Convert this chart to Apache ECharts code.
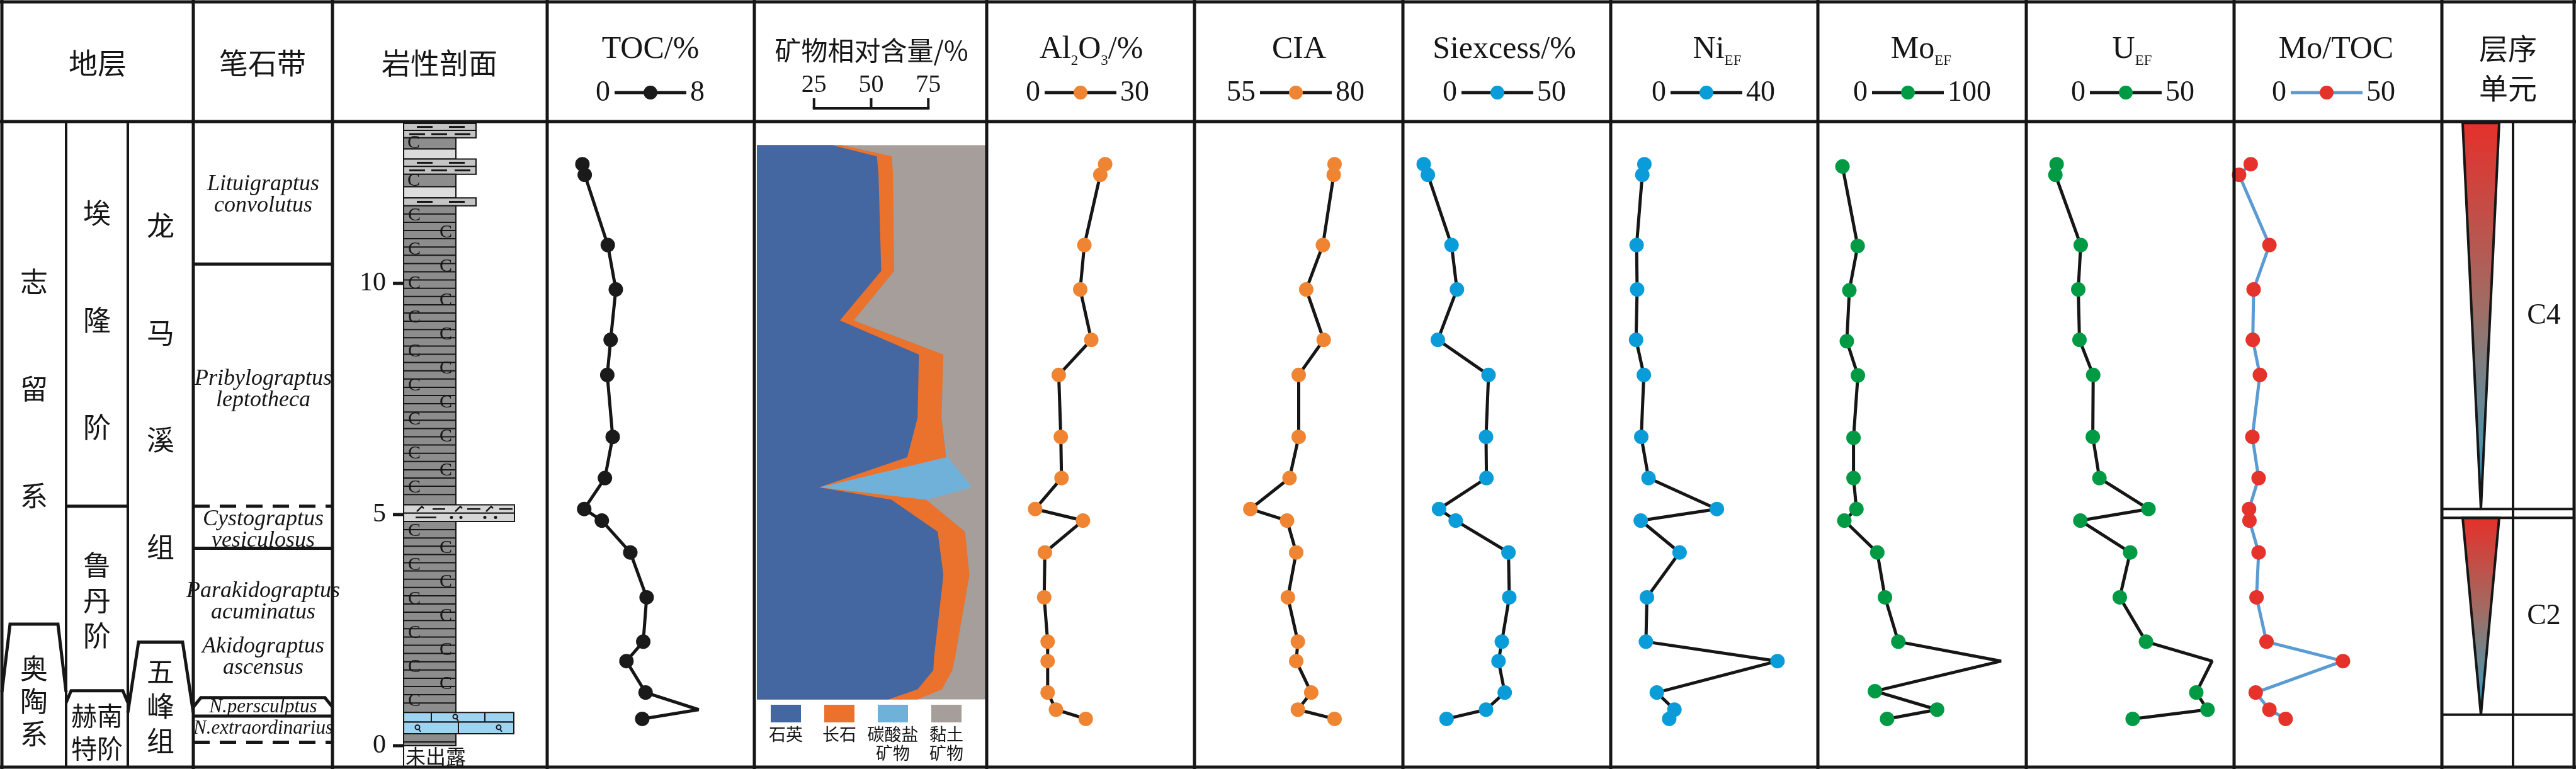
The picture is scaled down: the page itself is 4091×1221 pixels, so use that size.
<!DOCTYPE html>
<html>
<head>
<meta charset="utf-8">
<script src="https://cdn.jsdelivr.net/npm/echarts@6/dist/echarts.min.js"></script>
<style>
  html, body { margin: 0; padding: 0; background: #fff; }
  #main { width: 4091px; height: 1221px; }
</style>
</head>
<body>
<div id="main"></div>
<script>
// 剖面高度 (m)，各地化曲线共用的样品位置
var depth = [12.58, 12.35, 10.83, 9.87, 8.78, 8.02, 6.68, 5.79, 5.12, 4.87, 4.18, 3.21, 2.25, 1.83, 1.15, 0.78, 0.58];
var toc   = [1.36, 1.45, 2.34, 2.65, 2.45, 2.32, 2.53, 2.23, 1.43, 2.11, 3.21, 3.84, 3.71, 3.06, 3.80, 5.85, 3.67];
var al2o3 = [17.1, 16.4, 14.1, 13.5, 15.1, 10.4, 10.7, 10.8, 7.0, 13.9, 8.4, 8.3, 8.8, 8.8, 8.8, 10.0, 14.3];
var cia   = [71.8, 71.7, 70.4, 68.4, 70.5, 67.5, 67.5, 66.4, 61.7, 66.1, 67.2, 66.2, 67.4, 67.2, 69.0, 67.4, 71.8];
var siex  = [5.0, 6.0, 11.7, 13.0, 8.4, 20.6, 20.0, 20.1, 8.7, 12.7, 25.4, 25.6, 23.8, 23.0, 24.5, 20.0, 10.5];
var niEF  = [6.5, 6.1, 5.0, 5.1, 4.9, 6.4, 5.9, 7.3, 20.5, 5.8, 13.3, 7.0, 6.8, 32.2, 8.9, 12.3, 11.3];
var moDepth = [12.53, 10.81, 9.85, 8.75, 8.01, 6.66, 5.79, 5.12, 4.87, 4.18, 3.21, 2.25, 1.83, 1.18, 0.78, 0.58];
var moEF  = [11.8, 19.1, 15.1, 13.9, 19.2, 17.1, 17.1, 18.5, 12.7, 28.5, 32.2, 38.6, 87.9, 27.4, 57.2, 33.2];
var uEF   = [7.3, 7.0, 13.1, 12.5, 12.8, 16.1, 16.0, 17.6, 29.4, 13.0, 25.0, 22.5, 28.8, 44.7, 40.9, 43.6, 25.6];
var moToc = [4.0, 1.2, 8.5, 4.7, 4.5, 6.2, 4.4, 5.9, 3.6, 3.7, 5.9, 5.4, 7.8, 26.2, 5.2, 8.5, 12.4];

// 矿物相对含量 (%)
var minDepth  = [12.99, 12.75, 12.38, 10.27, 9.20, 8.46, 7.09, 6.24, 5.59, 5.32, 4.63, 3.69, 1.90, 1.63, 1.22, 1.00];
var quartz    = [32.9, 52.5, 53.2, 54.4, 36.3, 70.9, 70.3, 65.8, 27.2, 58.9, 79.1, 81.6, 77.5, 77.2, 70.3, 57.6];
var feldspar  = [4.4, 6.6, 6.3, 5.7, 6.1, 10.7, 10.5, 17.1, 0.3, 15.2, 12.0, 11.4, 9.2, 8.3, 10.7, 12.7];
var carbonate = [0, 0, 0, 0, 0, 0, 0, 0.6, 66.8, 0, 0, 0, 0, 0, 0, 0];
var clay      = [62.7, 40.9, 40.5, 39.9, 57.6, 18.4, 19.2, 16.5, 5.7, 25.9, 8.9, 7.0, 13.3, 14.5, 19.0, 29.7];
var mineralNames = ['石英', '长石', '碳酸盐\n矿物', '黏土\n矿物'];

// 岩性剖面 [顶, 底, 岩性]
var litho = [
  [13.46, 13.31, 'silt2'], [13.31, 13.15, 'silt3'], [13.15, 12.91, 'darkC'], [12.91, 12.69, 'pale'],
  [12.69, 12.53, 'silt2'], [12.53, 12.36, 'silt3'], [12.36, 12.09, 'darkC'], [12.09, 11.85, 'pale'],
  [11.85, 11.68, 'silt2'], [11.68, 5.21, 'shale'], [5.21, 5.03, 'chert'], [5.03, 4.85, 'siltDot'],
  [4.85, 0.72, 'shale'], [0.72, 0.51, 'lime1'], [0.51, 0.26, 'lime2'], [0.26, 0.0, 'shale']
];
var depthTicks = [0, 5, 10];

// 地层
var systems = [['志留系', 7.72], ['奥陶系', 0.97]];
var ordovicianTop = 2.63;
var stages = [['埃隆阶', 9.20], ['鲁丹阶', 3.15], ['赫南\n特阶', 0.29]];
var stageBounds = [5.18];
var hirnantianTop = 1.19;
var formations = [['龙马溪组', 7.78], ['五峰组', 0.86]];
var wufengTop = 2.24;
var zoneLabels = [
  ['Lituigraptus\nconvolutus', 11.91], ['Pribylograptus\nleptotheca', 7.70], ['Cystograptus\nvesiculosus', 4.67],
  ['Parakidograptus\nacuminatus', 3.11], ['Akidograptus\nascensus', 1.91], ['N.persculptus', 0.83], ['N.extraordinarius', 0.37]
];
var zoneSolid = [10.42, 4.27, 0.64];
var zoneDashed = [5.18, 0.075];
var persculptusTop = 1.04;
var sequences = [['C4', 13.47, 5.12], ['C2', 4.93, 0.67]];

var DMIN = -0.436, DMAX = 13.488, TOP = 194, H = 1022;
var SERIF = '"Liberation Serif", "Times New Roman", serif';
var CJK = '"Noto Sans CJK SC", sans-serif';
var INK = '#161616';
var COLS = { sys: [3, 105], stage: [105, 203], fm: [203, 307], zone: [307, 528] };
var LITHO = {
  silt2: { fill: '#c4c4c4', right: 756 }, silt3: { fill: '#c4c4c4', right: 756 },
  darkC: { fill: '#8d8d8d', right: 724 }, pale: { fill: '#dcdcdc', right: 724 },
  shale: { fill: '#8d8d8d', right: 724 }, chert: { fill: '#d6d6d6', right: 817 },
  siltDot: { fill: '#d6d6d6', right: 817 }, lime1: { fill: '#9fd3ef', right: 816 },
  lime2: { fill: '#9fd3ef', right: 816 }
};
var LABEL_GAP = { '志留系': 170, '埃隆阶': 170, '龙马溪组': 170, '鲁丹阶': 56, '奥陶系': 52, '五峰组': 55, '赫南\n特阶': 52 };

var panels = [
  { left: 869, width: 329, min: 0, max: 8, cx: 1033 },
  { left: 1202, width: 363, min: 0, max: 100 },
  { left: 1567, width: 330, min: 0, max: 30, cx: 1716 },
  { left: 1897, width: 331, min: 55, max: 80, cx: 2058 },
  { left: 2228, width: 330, min: 0, max: 50, cx: 2378 },
  { left: 2558, width: 329, min: 0, max: 40, cx: 2710 },
  { left: 2887, width: 331, min: 0, max: 100, cx: 3030 },
  { left: 3218, width: 330, min: 0, max: 50, cx: 3376 },
  { left: 3548, width: 330, min: 0, max: 50, cx: 3695 }
];
var ORANGE = '#ef8532', BLUE = '#0a9cd8', GREEN = '#009a44', RED = '#e5322a', LBLUE = '#5a9bd3';
var curves = [
  { grid: 1, xs: toc, ys: depth, color: '#1a1a1a', hide: [15] },
  { grid: 3, xs: al2o3, ys: depth, color: ORANGE },
  { grid: 4, xs: cia, ys: depth, color: ORANGE },
  { grid: 5, xs: siex, ys: depth, color: BLUE },
  { grid: 6, xs: niEF, ys: depth, color: BLUE },
  { grid: 7, xs: moEF, ys: moDepth, color: GREEN, hide: [12] },
  { grid: 8, xs: uEF, ys: depth, color: GREEN, hide: [13] },
  { grid: 9, xs: moToc, ys: depth, color: RED, line: LBLUE, lw: 5 }
];

function textStyle(o) {
  var s = { fill: INK, align: 'center', verticalAlign: 'middle', textAlign: 'center', textVerticalAlign: 'middle' };
  for (var k in o) s[k] = o[k];
  if (o.align) s.textAlign = o.align;
  if (o.verticalAlign) s.textVerticalAlign = o.verticalAlign;
  return s;
}

// 岩性柱
function renderLitho(params, api) {
  var L = litho[params.dataIndex], st = LITHO[L[2]];
  var yt = api.coord([0, L[0]])[1], yb = api.coord([0, L[1]])[1];
  var x0 = 641, x1 = st.right, ym = (yt + yb) / 2, ch = [];
  ch.push({ type: 'rect', shape: { x: x0, y: yt, width: x1 - x0, height: yb - yt }, style: { fill: st.fill, stroke: INK, lineWidth: 2 } });
  function dash(a, b, y, w) { ch.push({ type: 'line', shape: { x1: a, y1: y, x2: b, y2: y }, style: { stroke: INK, lineWidth: w || 3, fill: 'none' } }); }
  function vline(x) { ch.push({ type: 'line', shape: { x1: x, y1: yt, x2: x, y2: yb }, style: { stroke: INK, lineWidth: 2, fill: 'none' } }); }
  function glyph(x, y) { ch.push({ type: 'text', x: x, y: y, style: textStyle({ text: 'C', fontSize: 30, fontFamily: SERIF }) }); }
  function loop(x, y) {
    ch.push({ type: 'circle', shape: { cx: x, cy: y - 1, r: 3.5 }, style: { stroke: INK, lineWidth: 2, fill: 'none' } });
    ch.push({ type: 'line', shape: { x1: x + 2, y1: y + 2, x2: x + 5, y2: y + 6 }, style: { stroke: INK, lineWidth: 2 } });
  }
  function tick(x, y) { ch.push({ type: 'polyline', shape: { points: [[x - 5, y + 4], [x + 3, y - 4], [x + 6, y - 1]] }, style: { stroke: INK, lineWidth: 2.5, fill: 'none' } }); }
  switch (L[2]) {
    case 'silt2': dash(662, 687, ym); dash(713, 738, ym); break;
    case 'silt3': dash(650, 675, ym); dash(685, 710, ym); dash(722, 747, ym); break;
    case 'darkC': glyph(657, ym); break;
    case 'shale':
      for (var y = yt + 13.1; y < yb - 4; y += 13.1) dash(x0, 724, y, 2);
      var left = true;
      for (var y2 = yt + 15; y2 < yb - 10; y2 += 27) { glyph(left ? 658 : 708, y2); left = !left; }
      break;
    case 'chert':
      tick(667, ym); tick(728, ym); tick(777, ym);
      dash(687, 707, ym, 2.5); dash(742, 763, ym, 2.5); dash(793, 814, ym, 2.5);
      break;
    case 'siltDot':
      dash(660, 693, ym, 2.5);
      [717, 732, 770, 787].forEach(function (x) { ch.push({ type: 'circle', shape: { cx: x, cy: ym, r: 2.5 }, style: { fill: INK } }); });
      break;
    case 'lime1': vline(685); vline(770); loop(723, ym); break;
    case 'lime2': vline(728); loop(663, ym); loop(792, ym); break;
  }
  return { type: 'group', children: ch };
}

// 地层格架、笔石带、刻度、层序单元
function renderStrat(params, api) {
  var Y = function (d) { return api.coord([0, d])[1]; };
  var ch = [];
  function seg(x1, y1, x2, y2, w, dash) {
    ch.push({ type: 'line', shape: { x1: x1, y1: y1, x2: x2, y2: y2 }, style: { stroke: INK, lineWidth: w || 5, lineDash: dash || null, fill: 'none' } });
  }
  function cap(col, d, inset, drop) {
    var c = COLS[col], y = Y(d);
    ch.push({ type: 'polyline', shape: { points: [[c[0], y + drop], [c[0] + inset, y], [c[1] - inset, y], [c[1], y + drop]] }, style: { stroke: INK, lineWidth: 5, fill: 'none', lineJoin: 'miter' } });
  }
  function vtext(col, label, d, size) {
    var c = COLS[col], t = label.indexOf('\n') >= 0 ? label : label.split('').join('\n');
    ch.push({ type: 'text', x: (c[0] + c[1]) / 2, y: Y(d), style: textStyle({ text: t, fontSize: size || 44, fontFamily: CJK, lineHeight: LABEL_GAP[label] }) });
  }
  cap('sys', ordovicianTop, 13, 108);
  systems.forEach(function (u) { vtext('sys', u[0], u[1]); });
  stageBounds.forEach(function (d) { seg(105, Y(d), 203, Y(d)); });
  cap('stage', hirnantianTop, 8, 19);
  stages.forEach(function (u) { vtext('stage', u[0], u[1], u[0].length > 3 ? 41 : 44); });
  cap('fm', wufengTop, 17, 112);
  formations.forEach(function (u) { vtext('fm', u[0], u[1]); });
  zoneSolid.forEach(function (d) { seg(307, Y(d), 528, Y(d)); });
  zoneDashed.forEach(function (d) { seg(307, Y(d), 528, Y(d), 5, [26, 16]); });
  cap('zone', persculptusTop, 12, 15);
  zoneLabels.forEach(function (z) {
    var small = z[0].indexOf('N.') === 0;
    ch.push({ type: 'text', x: 418, y: Y(z[1]), style: textStyle({ text: z[0], fontSize: small ? 31 : 36, fontStyle: 'italic', fontFamily: SERIF, lineHeight: 34 }) });
  });
  depthTicks.forEach(function (d) {
    seg(624, Y(d), 641, Y(d), 5);
    ch.push({ type: 'text', x: 613, y: Y(d), style: textStyle({ text: String(d), fontSize: 42, fontFamily: SERIF, align: 'right' }) });
  });
  seg(641, Y(0), 641, Y(DMIN), 2);
  ch.push({ type: 'text', x: 644, y: (Y(0) + Y(DMIN)) / 2 + 1, style: textStyle({ text: '未出露', fontSize: 32, fontFamily: CJK, align: 'left' }) });
  sequences.forEach(function (s, i) {
    var yt = Y(s[1]), yb = Y(s[2]);
    ch.push({ type: 'polygon', shape: { points: [[3911, yt], [3969, yt], [3940, yb]] }, style: {
      fill: new echarts.graphic.LinearGradient(0, 0, 0, 1, [{ offset: 0, color: '#e5302a' }, { offset: 0.5, color: '#9b7068' }, { offset: 1, color: '#27a6cc' }]),
      stroke: INK, lineWidth: 4, lineJoin: 'miter' } });
    ch.push({ type: 'text', x: 4040, y: (yt + yb) / 2, style: textStyle({ text: s[0], fontSize: 46, fontFamily: SERIF }) });
    if (i > 0) seg(3878, yt, 4088, yt, 4);
    seg(3878, yb, 4088, yb, 4);
  });
  return { type: 'group', children: ch };
}

// 矿物堆积面积
var cum1 = quartz.slice(), cum2 = [], cum3 = [], cum4 = [];
for (var i = 0; i < quartz.length; i++) {
  cum2.push(cum1[i] + feldspar[i]);
  cum3.push(cum2[i] + carbonate[i]);
  cum4.push(cum3[i] + clay[i]);
}
var mineralColors = ['#4466a1', '#ea722d', '#70b1da', '#a59e9a'];
var mineralStack = [cum4, cum3, cum2, cum1];
var stackColors = [mineralColors[3], mineralColors[2], mineralColors[1], mineralColors[0]];
function renderMineral(params, api) {
  var cum = mineralStack[params.dataIndex];
  var pts = minDepth.map(function (d, k) { return api.coord([cum[k], d]); });
  pts.push(api.coord([0, minDepth[minDepth.length - 1]]));
  pts.push(api.coord([0, minDepth[0]]));
  return { type: 'polygon', shape: { points: pts }, style: { fill: stackColors[params.dataIndex], stroke: 'none' } };
}

var grids = [{ left: 0, top: TOP, width: 4091, height: H }];
var xAxes = [{ type: 'value', gridIndex: 0, min: 0, max: 4091, show: false }];
var yAxes = [{ type: 'value', gridIndex: 0, min: DMIN, max: DMAX, show: false }];
panels.forEach(function (p, k) {
  grids.push({ left: p.left, top: TOP, width: p.width, height: H });
  xAxes.push({ type: 'value', gridIndex: k + 1, min: p.min, max: p.max, show: false });
  yAxes.push({ type: 'value', gridIndex: k + 1, min: DMIN, max: DMAX, show: false });
});

var series = [
  { type: 'custom', xAxisIndex: 2, yAxisIndex: 2, renderItem: renderMineral, data: mineralStack.map(function () { return [0, 5]; }), clip: false, silent: true, z: 1 },
  { type: 'custom', xAxisIndex: 0, yAxisIndex: 0, renderItem: renderLitho, data: litho.map(function (l) { return [700, l[0]]; }), clip: false, silent: true, z: 2 },
  { type: 'custom', xAxisIndex: 0, yAxisIndex: 0, renderItem: renderStrat, data: [[0, 5]], clip: false, silent: true, z: 4 }
];
curves.forEach(function (c) {
  series.push({
    type: 'line', xAxisIndex: c.grid, yAxisIndex: c.grid, silent: true, z: 3,
    symbol: 'circle', symbolSize: 23, showAllSymbol: true,
    itemStyle: { color: c.color },
    lineStyle: { color: c.line || '#161616', width: c.lw || 5 },
    data: c.xs.map(function (v, k) {
      return (c.hide && c.hide.indexOf(k) >= 0) ? { value: [v, c.ys[k]], symbol: 'none' } : [v, c.ys[k]];
    })
  });
});

// 表头与表格线
var gfx = [];
function gLine(x1, y1, x2, y2, w, color) {
  gfx.push({ type: 'line', z: 20, shape: { x1: x1, y1: y1, x2: x2, y2: y2 }, style: { stroke: color || INK, lineWidth: w, fill: 'none' } });
}
function gText(x, y, o) { gfx.push({ type: 'text', x: x, y: y, z: 20, style: textStyle(o) }); }
[3, 193, 1218].forEach(function (y) { gLine(0, y, 4091, y, 5); });
[3, 307, 528, 869, 1198, 1567, 1897, 2228, 2558, 2887, 3218, 3548, 3878, 4088].forEach(function (x) { gLine(x, 0, x, 1221, 5); });
[105, 203, 3991].forEach(function (x) { gLine(x, 193, x, 1218, 4); });

gText(155, 100, { text: '地层', fontSize: 46, fontFamily: CJK });
gText(417, 100, { text: '笔石带', fontSize: 46, fontFamily: CJK });
gText(698, 100, { text: '岩性剖面', fontSize: 46, fontFamily: CJK });
gText(3983, 108, { text: '层序\n单元', fontSize: 46, fontFamily: CJK, lineHeight: 63 });
gText(1384, 80, { text: '矿物相对含量/%', fontSize: 42, fontFamily: CJK });

var richM = { fontSize: 50, fontFamily: SERIF, lineHeight: 56, padding: [0, 0, 4, 0], verticalAlign: 'bottom', fill: INK };
var richS = { fontSize: 23, fontFamily: SERIF, lineHeight: 24, verticalAlign: 'bottom', fill: INK };
var titles = [
  [1033, '{m|TOC/%}'], [1733, '{m|Al}{s|2}{m|O}{s|3}{m|/%}'], [2063, '{m|CIA}'], [2389, '{m|Siexcess/%}'],
  [2727, '{m|Ni}{s|EF}'], [3051, '{m|Mo}{s|EF}'], [3386, '{m|U}{s|EF}'], [3710, '{m|Mo/TOC}']
];
titles.forEach(function (t) { gText(t[0], 80, { text: t[1], rich: { m: richM, s: richS } }); });

// 图例刻度
panels.forEach(function (p, k) {
  if (!p.cx) return;
  var c = curves.filter(function (cv) { return cv.grid === k + 1; })[0];
  gLine(p.cx - 57, 147, p.cx + 57, 147, 5, c.line || INK);
  gfx.push({ type: 'circle', z: 21, shape: { cx: p.cx, cy: 147, r: 11 }, style: { fill: c.color } });
  gText(p.cx - 64, 148, { text: String(p.min), fontSize: 46, fontFamily: SERIF, align: 'right' });
  gText(p.cx + 63, 148, { text: String(p.max), fontSize: 46, fontFamily: SERIF, align: 'left' });
});
var mp = panels[1];
function mx(v) { return mp.left + (v - mp.min) / (mp.max - mp.min) * mp.width; }
[25, 50, 75].forEach(function (v) {
  gText(mx(v), 135, { text: String(v), fontSize: 40, fontFamily: SERIF });
  gLine(mx(v), 156, mx(v), 172, 4);
});
gLine(mx(25) - 2, 172, mx(75) + 2, 172, 4);

// 矿物图例
mineralNames.forEach(function (n, k) {
  var x = 1224 + k * 85;
  gfx.push({ type: 'rect', z: 20, shape: { x: x, y: 1119, width: 48, height: 28 }, style: { fill: mineralColors[k] } });
  gText(x + 24, 1151, { text: n, fontSize: 27, fontFamily: CJK, verticalAlign: 'top', lineHeight: 30 });
});

var chart = echarts.init(document.getElementById('main'), null, { renderer: 'canvas', width: 4091, height: 1221 });
chart.setOption({
  animation: false,
  backgroundColor: '#ffffff',
  grid: grids,
  xAxis: xAxes,
  yAxis: yAxes,
  series: series,
  graphic: { elements: gfx }
});
</script>
</body>
</html>
